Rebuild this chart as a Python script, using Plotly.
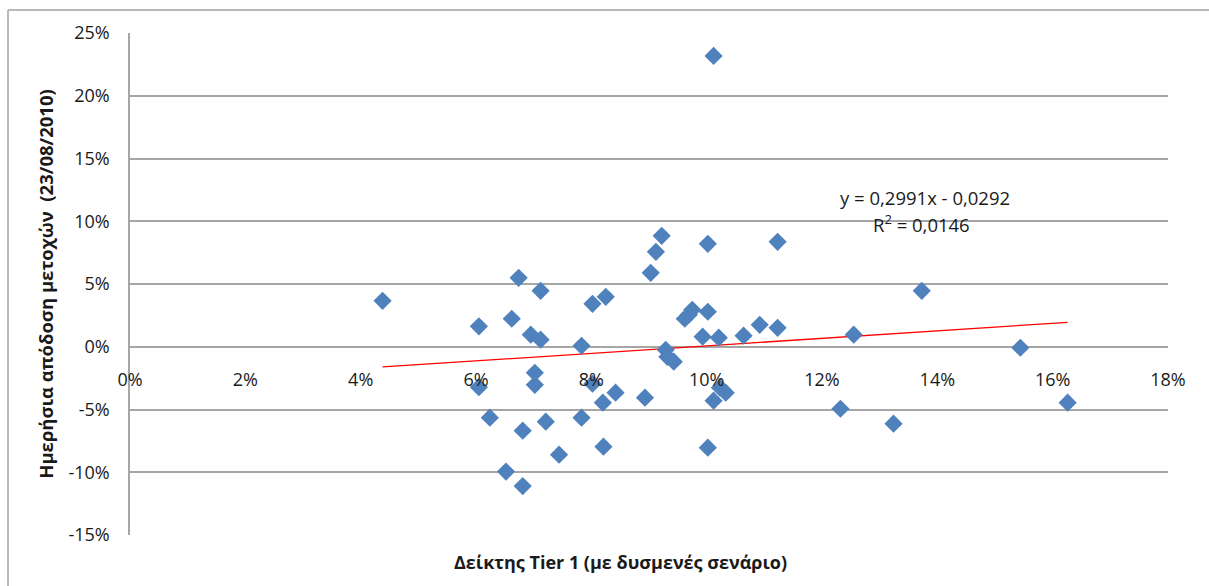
import plotly.graph_objects as go

# Tier 1 ratio (adverse scenario), in %
tier1 = [4.38, 6.05, 6.05, 6.24, 6.52, 6.62, 6.74, 6.81, 6.81, 6.95,
         7.02, 7.02, 7.12, 7.12, 7.21, 7.44, 7.83, 7.83, 8.02, 8.02,
         8.20, 8.21, 8.25, 8.42, 8.93, 9.03, 9.12, 9.22, 9.29, 9.32,
         9.43, 9.62, 9.69, 9.75, 9.93, 10.02, 10.02, 10.02, 10.12, 10.12,
         10.21, 10.23, 10.33, 10.64, 10.92, 11.23, 11.23, 12.32, 12.55, 13.24,
         13.73, 15.44, 16.26]
# daily stock return 23/08/2010, in %
ret = [3.66, 1.63, -3.22, -5.65, -9.95, 2.23, 5.49, -6.69, -11.1, 0.96,
       -2.07, -3.03, 4.46, 0.56, -5.97, -8.6, 0.08, -5.65, 3.42, -2.95,
       -4.46, -7.96, 3.98, -3.66, -4.06, 5.89, 7.56, 8.84, -0.24, -0.80,
       -1.19, 2.23, 2.55, 2.95, 0.8, 2.79, 8.2, -8.04, -4.3, 23.17,
       0.72, -3.26, -3.66, 0.88, 1.75, 1.51, 8.36, -4.94, 0.96, -6.13,
       4.46, -0.08, -4.46]

slope = 0.2991
intercept = -0.0292
r2 = 0.0146

y_ticks = [-0.15, -0.10, -0.05, 0.0, 0.05, 0.10, 0.15, 0.20, 0.25]
y_tick_labels = ["-15%", "-10%", "-5%", "0%", "5%", "10%", "15%", "20%", "25%"]
x_ticks = [0.0, 0.02, 0.04, 0.06, 0.08, 0.10, 0.12, 0.14, 0.16, 0.18]
x_tick_labels = ["0%", "2%", "4%", "6%", "8%", "10%", "12%", "14%", "16%", "18%"]

xs = [v / 100 for v in tier1]
ys = [v / 100 for v in ret]
tx = [min(xs), max(xs)]
ty = [slope * v + intercept for v in tx]

FONT = "'Open Sans', Arial, sans-serif"

fig = go.Figure()
fig.add_trace(go.Scatter(x=tx, y=ty, mode="lines",
                         line=dict(color="#ff0000", width=1.3),
                         hoverinfo="skip", showlegend=False))
fig.add_trace(go.Scatter(x=xs, y=ys, mode="markers",
                         marker=dict(symbol="diamond", size=14, color="#4f81bd",
                                     line=dict(width=0)),
                         showlegend=False))

fig.update_layout(
    width=1209, height=586,
    margin=dict(l=130, r=41, t=33, b=51),
    paper_bgcolor="white", plot_bgcolor="white",
    font=dict(family=FONT, size=18, color="#1a1a1a"),
    xaxis=dict(range=[0, 0.18], tickvals=x_ticks, ticktext=x_tick_labels,
               showgrid=False, zeroline=False, showline=False,
               anchor="free", position=0.375,
               ticks="", ticklabelstandoff=20,
               tickfont=dict(size=18)),
    yaxis=dict(range=[-0.15, 0.25], tickvals=y_ticks, ticktext=y_tick_labels,
               showgrid=True, gridcolor="#a6a6a6", gridwidth=1.5,
               zeroline=False, showline=True, linecolor="#a6a6a6", linewidth=1.5,
               ticks="", ticklabelstandoff=15,
               tickfont=dict(size=18),
               title=dict(text="<b>Ημερήσια απόδοση μετοχών  (23/08/2010)</b>",
                          font=dict(size=18.5), standoff=10)),
    annotations=[
        dict(text="<b>Δείκτης Tier 1 (με δυσμενές σενάριο)</b>",
             xref="paper", yref="paper", x=0.473, y=-0.025,
             xanchor="center", yanchor="top", showarrow=False,
             font=dict(size=18)),
        dict(text="y = 0,2991x - 0,0292", xref="x", yref="y",
             x=0.1378, y=0.119, xanchor="center", yanchor="middle",
             showarrow=False, font=dict(size=18.5)),
        dict(text="R<sup>2</sup> = 0,0146", xref="x", yref="y",
             x=0.1372, y=0.098, xanchor="center", yanchor="middle",
             showarrow=False, font=dict(size=18.5)),
    ],
    shapes=[
        dict(type="line", xref="paper", yref="paper",
             x0=-0.1175, x1=1.05, y0=1.0458, y1=1.0458,
             line=dict(color="#b8b8b8", width=2)),
        dict(type="line", xref="paper", yref="paper",
             x0=-0.1175, x1=-0.1175, y0=1.0458, y1=-0.2,
             line=dict(color="#b8b8b8", width=2)),
    ],
)

fig.write_html("out.html")
